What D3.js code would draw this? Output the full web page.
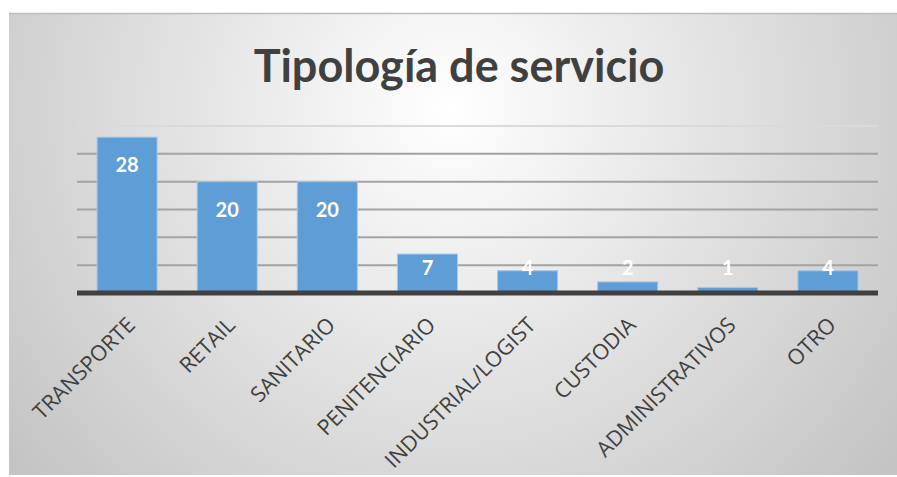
<!DOCTYPE html>
<html lang="es">
<head>
<meta charset="UTF-8">
<title>Tipología de servicio</title>
<style>
    body { margin: 0; background: #fff; }
    svg { display: block; }
</style>
</head>
<body>
<div id="chart"></div>
<script src="https://d3js.org/d3.v7.min.js"></script>
<script>
    const categories = ["TRANSPORTE", "RETAIL", "SANITARIO", "PENITENCIARIO",
        "INDUSTRIAL/LOGIST", "CUSTODIA", "ADMINISTRATIVOS", "OTRO"];
    const values = [28, 20, 20, 7, 4, 2, 1, 4];
    const gridTicks = [5, 10, 15, 20, 25, 30];

    const width = 897, height = 477;
    const margin = { left: 77, right: 19, top: 126, bottom: 184 };

    const svg = d3.select("#chart").append("svg")
        .attr("width", width)
        .attr("height", height);

    const defs = svg.append("defs");
    const bg = defs.append("radialGradient")
        .attr("id", "bg")
        .attr("gradientUnits", "userSpaceOnUse")
        .attr("cx", 450).attr("cy", 110).attr("r", 560);
    bg.append("stop").attr("offset", "0%").attr("stop-color", "#ffffff");
    bg.append("stop").attr("offset", "100%").attr("stop-color", "#c4c4c4");

    // chart area
    svg.append("rect")
        .attr("x", 9).attr("y", 13)
        .attr("width", width - 9).attr("height", 462)
        .attr("fill", "url(#bg)");
    svg.append("line")
        .attr("x1", 9).attr("x2", width)
        .attr("y1", 13.5).attr("y2", 13.5)
        .attr("stroke", "#bdbdbd").attr("stroke-width", 1.5);

    svg.append("text")
        .attr("x", 459).attr("y", 82)
        .attr("text-anchor", "middle")
        .style("font-family", "Lato, 'Open Sans', sans-serif")
        .style("font-weight", "bold")
        .style("font-size", "45px")
        .style("fill", "#404040")
        .text("Tipología de servicio");

    const x = d3.scaleBand()
        .domain(categories)
        .range([margin.left, width - margin.right])
        .paddingInner(0.4)
        .paddingOuter(0.2);

    const y = d3.scaleLinear()
        .domain([0, 30])
        .range([293, 126]);

    // gridlines
    svg.append("g")
        .selectAll("line")
        .data(gridTicks)
        .join("line")
        .attr("x1", margin.left).attr("x2", width - margin.right)
        .attr("y1", d => y(d)).attr("y2", d => y(d))
        .attr("stroke", d => d === 30 ? "#dadada" : "#a3a3a3")
        .attr("stroke-width", 2);

    // bars
    svg.append("g")
        .selectAll("rect")
        .data(values)
        .join("rect")
        .attr("x", (d, i) => x(categories[i]))
        .attr("width", x.bandwidth())
        .attr("y", d => y(d))
        .attr("height", d => y(0) - y(d))
        .attr("fill", "#5f9dd6")
        .attr("stroke", "#a9c9ea")
        .attr("stroke-width", 1);

    // baseline
    svg.append("line")
        .attr("x1", margin.left).attr("x2", width - margin.right)
        .attr("y1", y(0)).attr("y2", y(0))
        .attr("stroke", "#404040").attr("stroke-width", 5);

    // value labels
    svg.append("g")
        .selectAll("text")
        .data(values)
        .join("text")
        .attr("x", (d, i) => x(categories[i]) + x.bandwidth() / 2)
        .attr("y", d => Math.min(y(d) + 28, y(0) - 25))
        .attr("dy", "0.35em")
        .attr("text-anchor", "middle")
        .style("font-family", "Lato, 'Open Sans', sans-serif")
        .style("font-weight", "bold")
        .style("font-size", "20px")
        .style("fill", "#ffffff")
        .text(d => d);

    // category labels
    svg.append("g")
        .selectAll("text")
        .data(categories)
        .join("text")
        .attr("transform", d => `translate(${x(d) + x.bandwidth() / 2 + 4},${y(0) + 28}) rotate(-45)`)
        .attr("dy", "0.35em")
        .attr("text-anchor", "end")
        .style("font-family", "'Open Sans', sans-serif")
        .style("font-size", "21.5px")
        .style("fill", "#404040")
        .text(d => d);
</script>
</body>
</html>
